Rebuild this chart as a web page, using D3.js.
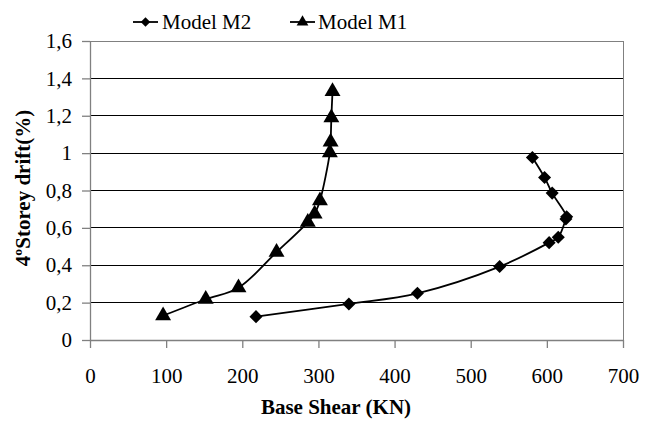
<!DOCTYPE html>
<html><head><meta charset="utf-8">
<script src="https://cdn.jsdelivr.net/npm/d3@7"></script>
<style>body{margin:0;background:#fff}svg{display:block;font-family:"Liberation Serif","Times New Roman",serif}</style>
</head><body>
<svg id="c" width="656" height="422"></svg>
<script>
const seriesNames = ["Model M2", "Model M1"];
const m2Shear = [218, 340, 430, 538, 603, 615, 625, 626, 607, 597, 581];
const m2Drift = [0.125, 0.193, 0.25, 0.393, 0.521, 0.55, 0.648, 0.66, 0.786, 0.87, 0.977];
const m1Shear = [96, 152, 195, 245, 286, 295, 302, 315, 316, 317, 318.5];
const m1Drift = [0.13, 0.218, 0.28, 0.47, 0.63, 0.675, 0.746, 1.003, 1.06, 1.19, 1.33];
const xTicks = [0, 100, 200, 300, 400, 500, 600, 700];
const yTicks = [0, 0.2, 0.4, 0.6, 0.8, 1, 1.2, 1.4, 1.6];
const xTitle = "Base Shear (KN)";
const yTitle = "4ºStorey drift(%)";

const svg = d3.select("#c");
const L = 90, R = 623, T = 41, B = 340;
const x = d3.scaleLinear().domain([0, 700]).range([L, R]);
const y = d3.scaleLinear().domain([0, 1.6]).range([B, T]);
const serif = t => t.attr("font-family", "Liberation Serif").attr("font-size", 21)
  .style("font-family", '"Liberation Serif"').style("font-size", "21px").attr("fill", "#000");

svg.append("g").selectAll("line").data(yTicks.filter(d => d > 0)).join("line")
  .attr("x1", L).attr("x2", R).attr("y1", d => y(d)).attr("y2", d => y(d))
  .attr("stroke", "#000").attr("stroke-width", 1).attr("shape-rendering", "crispEdges");
svg.append("line").attr("x1", R).attr("x2", R).attr("y1", T).attr("y2", B)
  .attr("stroke", "#808080").attr("shape-rendering", "crispEdges");
svg.append("line").attr("x1", L).attr("x2", R).attr("y1", T).attr("y2", T)
  .attr("stroke", "#808080").attr("shape-rendering", "crispEdges");

const fmt = d => String(+d.toFixed(1)).replace(".", ",");
const xa = svg.append("g").attr("transform", `translate(0,${B})`)
  .call(d3.axisBottom(x).tickValues(xTicks).tickSize(8).tickSizeOuter(0).tickPadding(20).tickFormat(d3.format("d")));
const ya = svg.append("g").attr("transform", `translate(${L},0)`)
  .call(d3.axisLeft(y).tickValues(yTicks).tickSize(8).tickSizeOuter(0).tickPadding(10).tickFormat(fmt));
[xa, ya].forEach(a => {
  a.attr("font-family", "Liberation Serif").attr("font-size", 21);
  a.select(".domain").attr("stroke", "#808080").attr("stroke-width", 1.3);
  a.selectAll(".tick line").attr("stroke", "#808080").attr("stroke-width", 1.3);
  a.selectAll("text").call(serif);
});

svg.append("text").attr("x", 336).attr("y", 414).attr("text-anchor", "middle")
  .call(serif).attr("font-weight", "bold").style("font-weight", "bold").text(xTitle);
svg.append("text").attr("transform", "translate(30,188) rotate(-90)").attr("text-anchor", "middle")
  .call(serif).attr("font-weight", "bold").style("font-weight", "bold").text(yTitle);

const line = d3.line().x(d => x(d[0])).y(d => y(d[1])).curve(d3.curveCatmullRom.alpha(0.5));
const m2 = m2Shear.map((v, i) => [v, m2Drift[i]]);
const m1 = m1Shear.map((v, i) => [v, m1Drift[i]]);
const dia = d3.symbol().type(d3.symbolSquare).size(85)();
const tri = d3.symbol().type(d3.symbolTriangle).size(110)();

[[m2, "d"], [m1, "t"]].forEach(([data, k]) => {
  svg.append("path").datum(data).attr("d", line).attr("fill", "none").attr("stroke", "#000").attr("stroke-width", 1.8);
  svg.append("g").selectAll("path").data(data).join("path")
    .attr("d", k === "d" ? dia : tri)
    .attr("transform", d => `translate(${x(d[0])},${y(d[1])})` + (k === "d" ? " rotate(45)" : ""))
    .attr("fill", "#000");
});

const leg = [{n: seriesNames[0], k: "d", x0: 133, tx: 162}, {n: seriesNames[1], k: "t", x0: 290, tx: 318}];
const lg = svg.append("g");
leg.forEach(l => {
  lg.append("line").attr("x1", l.x0).attr("x2", l.x0 + 25).attr("y1", 22).attr("y2", 22).attr("stroke", "#000").attr("stroke-width", 1.8);
  lg.append("path").attr("d", l.k === "d" ? d3.symbol().type(d3.symbolSquare).size(45)() : d3.symbol().type(d3.symbolTriangle).size(60)())
    .attr("transform", `translate(${l.x0 + 12.5},22)` + (l.k === "d" ? " rotate(45)" : "")).attr("fill", "#000");
  lg.append("text").attr("x", l.tx).attr("y", 29).call(serif).text(l.n);
});
</script>
</body></html>
